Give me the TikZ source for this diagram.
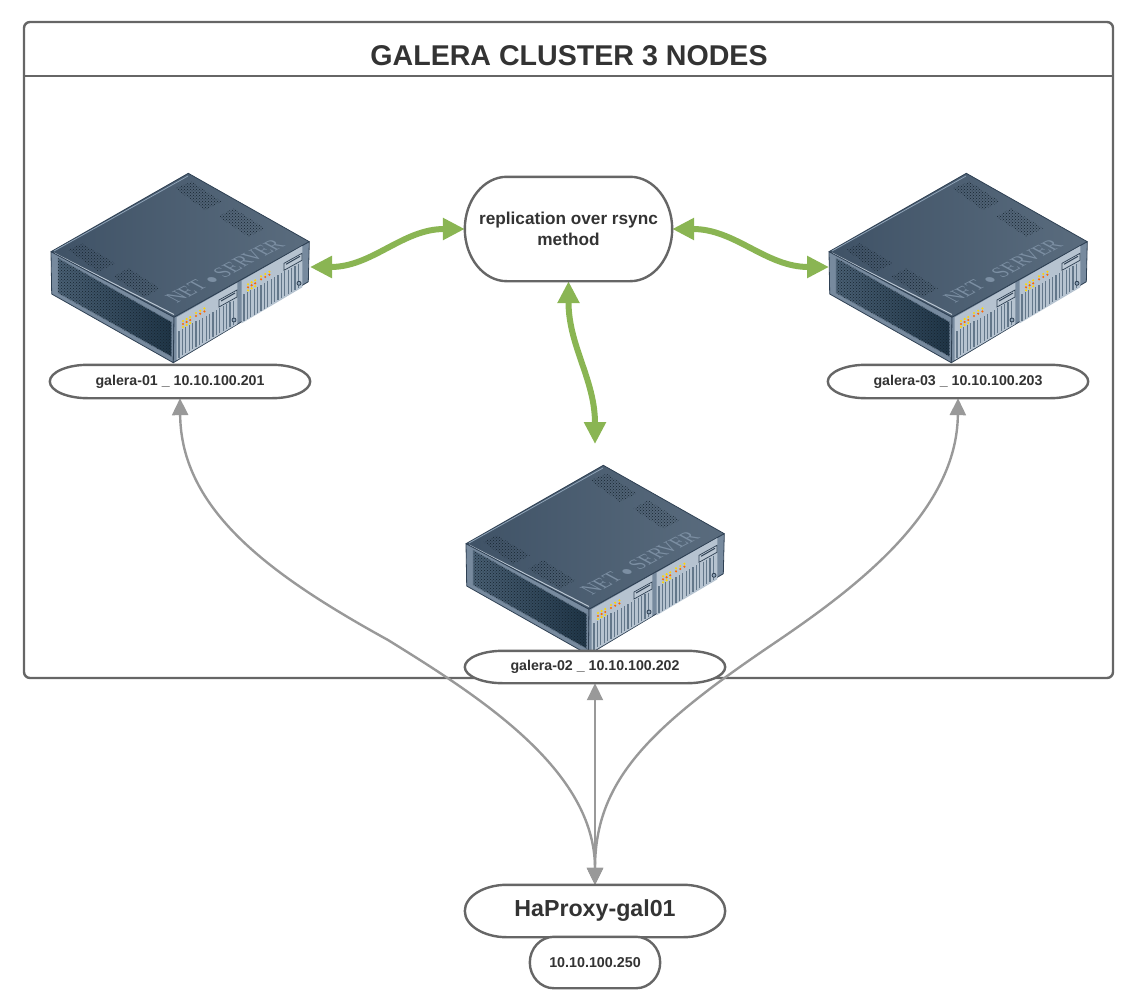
\documentclass[tikz,border=0pt]{standalone}
\usepackage{fontspec}
\setmainfont{Liberation Sans}
\newfontfamily\brandfont{Liberation Serif}
\usetikzlibrary{arrows.meta,calc,patterns}

\definecolor{linegray}{HTML}{666666}
\definecolor{textgray}{HTML}{333333}
\definecolor{linkgray}{HTML}{999999}
\definecolor{syncgreen}{HTML}{8AB553}
\definecolor{caseedge}{HTML}{2E4053}
\definecolor{panelblue}{HTML}{8FA3B7}
\definecolor{grilldark}{HTML}{16242F}

\pgfdeclarelayer{foreground}
\pgfsetlayers{main,foreground}

\tikzset{
  pillbox/.style={inner sep=0pt,text=textgray,align=center,font=\bfseries\fontsize{14.2}{17}\selectfont},
  pilloutline/.style={draw=linegray,fill=white,line width=2.4pt},
  titlefont/.style={text=textgray,font=\bfseries\fontsize{28.6}{34}\selectfont},
  linkarrow/.style={draw=linkgray,line width=2.4pt,{Triangle[width=16pt,length=17pt]}-{Triangle[width=16pt,length=17pt]}},
  syncarrow/.style={draw=syncgreen,line width=6pt,{Triangle[width=21pt,length=22pt]}-{Triangle[width=21pt,length=22pt]}},
  vent/.style={pattern=crosshatch dots,pattern color=grilldark},
  netserver/.pic={
    % top face
    \shade[left color={rgb,255:red,63;green,82;blue,102},right color={rgb,255:red,90;green,108;blue,126},
      draw=caseedge,line width=.8pt,line join=round]
      (137.3,.3) -- (258.3,68.7) -- (123,144.3) -- (0,78.7) -- cycle;
    \draw[panelblue,line width=.8pt] (3,78) -- (137,3);
    \draw[panelblue!60!white,line width=1pt] (3,80) -- (123,141.5);
    \fill[vent] (124,15.3) -- (140.7,8.7) -- (170.7,28.7) -- (154,37) -- cycle;
    \fill[vent] (167.3,43.7) -- (182.3,35.3) -- (214,55.3) -- (197.3,63.7) -- cycle;
    \fill[vent] (17.3,77) -- (30.7,70.3) -- (64,90.3) -- (47.3,98.7) -- cycle;
    \fill[vent] (62.3,103.7) -- (77.3,95.3) -- (109,115.3) -- (94,123.7) -- cycle;
    \node (-brand) at (174,98) [rotate=28,xslant=-.67,transform shape,text=panelblue!80!caseedge,
      font=\brandfont\fontsize{18.5}{18.5}\selectfont] {NET $\bullet$ SERVER};
    % left face
    \fill[panelblue!75!caseedge,draw=caseedge,line width=.8pt,line join=round]
      (0,78.7) -- (123,144.3) -- (122.3,189.7) -- (.7,121) -- cycle;
    \shade[left color={rgb,255:red,74;green,96;blue,116},right color={rgb,255:red,31;green,53;blue,71},
      draw=panelblue!60!caseedge,line width=.6pt]
      (7,85) -- (120.7,149) -- (120.7,183.7) -- (7,120) -- cycle;
    \fill[vent] (7,85) -- (120.7,149) -- (120.7,183.7) -- (7,120) -- cycle;
    % right face
    \fill[panelblue!75!caseedge,draw=caseedge,line width=.8pt,line join=round]
      (123,144.3) -- (258.3,68.7) -- (257.3,108.7) -- (122.3,189.7) -- cycle;
    \foreach \pn in {0,1} {
      \begin{scope}[shift={(65*\pn,-36.7*\pn)}]
        \fill[panelblue!65!white] (125.7,144.3) -- (186.3,109.7) -- (186.3,151) -- (125.7,187) -- cycle;
        \foreach \sx in {0,...,16} {
          \draw[panelblue!55!caseedge,line width=1.2pt]
            ({128+\sx*3.4},{158-.56*\sx*3.4}) -- ({128+\sx*3.4},{184.5-.6*\sx*3.4});
        }
        \fill[panelblue!60!white,draw=caseedge,line width=.7pt]
          (168,127) -- (186,117) -- (186,124) -- (168,134) -- cycle;
        \draw[caseedge,line width=1pt] (170,128) -- (184,120);
        \fill[panelblue,draw=caseedge,line width=.8pt] (183,147) circle (2pt);
        \foreach \i in {0,1,2} {
          \fill[yellow!75!orange] ({132+\i*3.6},{148-\i*2}) circle (1.2pt);
          \fill[orange!80!red] ({132+\i*3.6},{151-\i*2}) circle (1.2pt);
          \fill[yellow!75!orange] ({132+\i*3.6},{154-\i*2}) circle (1.2pt);
          \fill[yellow!75!orange] ({145+\i*4.2},{140-\i*2.3}) circle (1.2pt);
          \fill[orange!80!red] ({145+\i*4.2},{143-\i*2.3}) circle (1.2pt);
        }
      \end{scope}
    }
    \coordinate (-west) at (0,94);
    \coordinate (-east) at (259,94);
  }
}

\newcommand{\pilledge}[2]{%
  \draw[pilloutline] ([xshift=#2pt]#1.north west) -- ([xshift=-#2pt]#1.north east)
    .. controls ($([xshift=-#2pt]#1.north east)!.55!(#1.north east)$) and ($(#1.east)!.55!(#1.north east)$) .. (#1.east)
    .. controls ($(#1.east)!.55!(#1.south east)$) and ($([xshift=-#2pt]#1.south east)!.55!(#1.south east)$) .. ([xshift=-#2pt]#1.south east)
    -- ([xshift=#2pt]#1.south west)
    .. controls ($([xshift=#2pt]#1.south west)!.55!(#1.south west)$) and ($(#1.west)!.55!(#1.south west)$) .. (#1.west)
    .. controls ($(#1.west)!.55!(#1.north west)$) and ($([xshift=#2pt]#1.north west)!.55!(#1.north west)$) .. cycle;
}

\begin{document}
\begin{tikzpicture}[x=1pt,y=-1pt]
\useasboundingbox (0,0) rectangle (1148,998);

\node (frame) at (568.5,350) [draw=linegray,line width=2.4pt,rounded corners=6pt,
  minimum width=1089pt,minimum height=656pt] {};
\draw[linegray,line width=2pt] (frame.west |- 0,76) -- (frame.east |- 0,76);
\node (title) at (569,55.5) [titlefont] {GALERA CLUSTER 3 NODES};

\pic (left) at (51,173) {netserver};
\pic (mid) at (466,465) {netserver};
\pic (right) at (829,173) {netserver};

\coordinate (midtop) at (595,444);

\begin{pgfonlayer}{foreground}
\node (rep) at (568.5,229) [pillbox,minimum width=207pt,minimum height=104pt,
  font=\bfseries\fontsize{17.2}{21}\selectfont] {replication over rsync\\method};
\node (gal01) at (180,381.5) [pillbox,minimum width=260pt,minimum height=33pt] {galera-01 \_ 10.10.100.201};
\node (gal02) at (595,667) [pillbox,minimum width=260pt,minimum height=32pt] {galera-02 \_ 10.10.100.202};
\node (gal03) at (958,381.5) [pillbox,minimum width=260pt,minimum height=33pt] {galera-03 \_ 10.10.100.203};
\node (haproxy) at (595,911) [pillbox,minimum width=260pt,minimum height=52pt,
  font=\bfseries\fontsize{23.2}{26}\selectfont] {HaProxy-gal01};
\node (vip) at (595,962.5) [pillbox,minimum width=130pt,minimum height=51pt,
  font=\bfseries\fontsize{14.3}{17}\selectfont] {10.10.100.250};
\end{pgfonlayer}

\draw[linkarrow] (haproxy.north) .. controls (595,770) and (480,697) .. (388,640)
  .. controls (270,575) and (181,510) .. (gal01.south);
\draw[linkarrow] (haproxy.north) .. controls (595,780) and (650,727) .. (776,642)
  .. controls (860,585) and (957,510) .. (gal03.south);
\draw[linkarrow,line width=2pt] (haproxy.north) -- (gal02.south);

\draw[syncarrow] (rep.west) to[out=180,in=0] (left-east);
\draw[syncarrow] (rep.east) to[out=0,in=180] (right-west);
\draw[syncarrow] (rep.south) to[out=270,in=90] (midtop);

\pilledge{rep}{42}
\pilledge{gal01}{38}
\pilledge{gal02}{38}
\pilledge{gal03}{38}
\pilledge{haproxy}{42}
\pilledge{vip}{24}
\end{tikzpicture}
\end{document}
